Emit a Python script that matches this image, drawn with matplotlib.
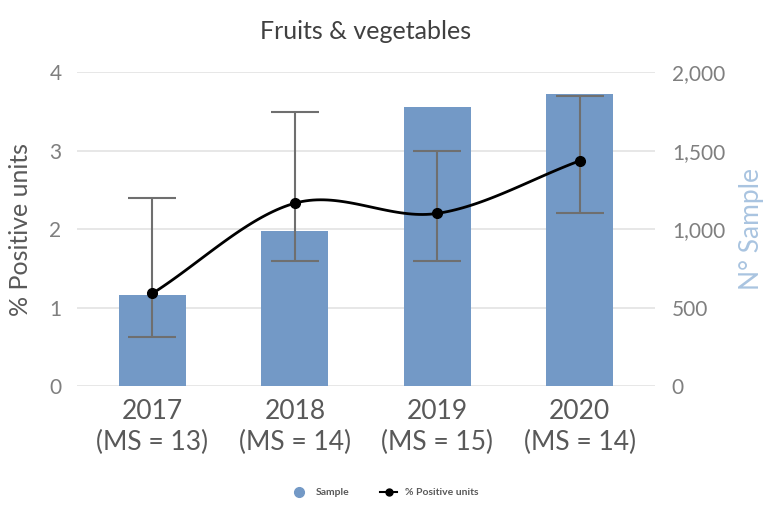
import matplotlib
matplotlib.use("Agg")
import matplotlib.pyplot as plt
import numpy as np
from matplotlib.lines import Line2D

plt.rcParams['font.family'] = ['Lato', 'DejaVu Sans']

# data
years = ["2017", "2018", "2019", "2020"]
ms = [13, 14, 15, 14]
samples = [583, 985, 1775, 1860]
pct_pos = [1.18, 2.33, 2.20, 2.87]
err_low = [0.62, 1.59, 1.59, 2.20]
err_high = [2.39, 3.49, 2.99, 3.70]

bar_col = "#7399c6"
txt_col = "#595959"
tick_col = "#7f7f7f"

fig = plt.figure(figsize=(7.69, 5.08), dpi=100)
ax = fig.add_axes([0.100, 0.240, 0.752, 0.618])
ax2 = ax.twinx()

x = np.arange(len(years))

# bars on the right axis (N° sample)
ax2.bar(x, samples, width=0.47, color=bar_col, zorder=2)
ax2.set_ylim(0, 2000)
ax2.set_yticks([0, 500, 1000, 1500, 2000])
ax2.set_yticklabels(["0", "500", "1,000", "1,500", "2,000"])
ax2.grid(axis="y", color="#e3e3e3", linewidth=1.2, zorder=0)
ax2.set_axisbelow(True)
ax2.set_ylabel("N° Sample", fontsize=19, color="#a9c4e0", labelpad=10)

# smooth line (catmull-rom through the points, like excel smoothing)
def smooth(xs, ys, n=40):
    xs = np.asarray(xs, float)
    ys = np.asarray(ys, float)
    px = np.concatenate([[2 * xs[0] - xs[1]], xs, [2 * xs[-1] - xs[-2]]])
    py = np.concatenate([[2 * ys[0] - ys[1]], ys, [2 * ys[-1] - ys[-2]]])
    outx, outy = [], []
    t = np.linspace(0, 1, n)
    for i in range(1, len(px) - 2):
        for p, out in ((px, outx), (py, outy)):
            p0, p1, p2, p3 = p[i - 1], p[i], p[i + 1], p[i + 2]
            out.extend(0.5 * ((2 * p1) + (-p0 + p2) * t
                              + (2 * p0 - 5 * p1 + 4 * p2 - p3) * t ** 2
                              + (-p0 + 3 * p1 - 3 * p2 + p3) * t ** 3))
    return np.array(outx), np.array(outy)

sx, sy = smooth(x, pct_pos)
ax.set_zorder(ax2.get_zorder() + 1)
ax.patch.set_visible(False)

yerr = [np.array(pct_pos) - np.array(err_low), np.array(err_high) - np.array(pct_pos)]
ax.errorbar(x, pct_pos, yerr=yerr, fmt="none", ecolor="#6f6f6f",
            elinewidth=1.5, capsize=17, capthick=1.5, zorder=2)
ax.plot(sx, sy, color="black", linewidth=2, zorder=3)
ax.plot(x, pct_pos, "o", color="black", markersize=7, zorder=4)

ax.set_ylim(0, 4)
ax.set_yticks([0, 1, 2, 3, 4])
ax.set_xlim(-0.53, 3.53)
ax.set_xticks(x)
ax.set_xticklabels([f"{y}\n(MS = {m})" for y, m in zip(years, ms)],
                   fontsize=19, color=txt_col, linespacing=1.3)
ax.set_ylabel("% Positive units", fontsize=18, color=txt_col)
ax.yaxis.set_label_coords(-0.078, 0.5)
ax.set_title("Fruits & vegetables", fontsize=18, color="#404040", pad=24)

for a in (ax, ax2):
    for s in a.spines.values():
        s.set_visible(False)
    a.tick_params(length=0, labelsize=15, labelcolor=tick_col)
ax.tick_params(axis="x", labelsize=19, labelcolor=txt_col, pad=9)
ax.tick_params(axis="y", pad=11)
ax2.tick_params(axis="y", pad=12)

handles = [
    Line2D([], [], marker="o", linestyle="none", color=bar_col, markersize=7),
    Line2D([], [], marker="o", color="black", linewidth=1.5, markersize=5),
]
fig.legend(handles, ["Sample", "% Positive units"], loc="center",
           bbox_to_anchor=(0.5, 0.03), ncol=2, frameon=False,
           prop={"size": 7.5, "weight": "bold"}, labelcolor=txt_col,
           handlelength=1.6, columnspacing=3)

fig.savefig("out.png", dpi=100)
